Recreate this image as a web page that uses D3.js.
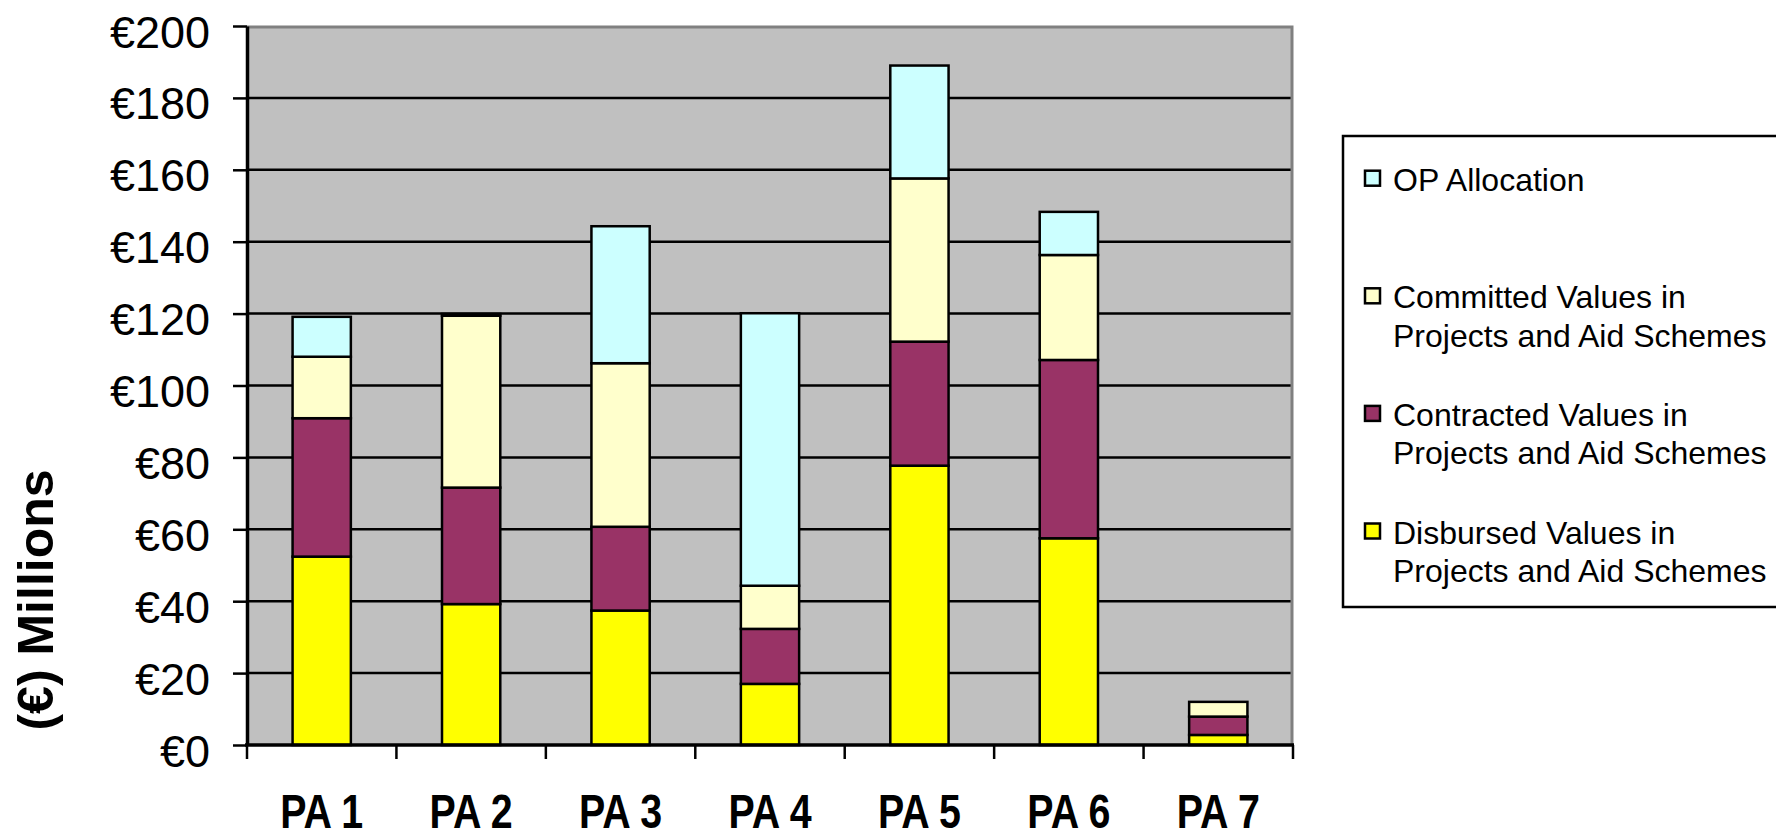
<!DOCTYPE html>
<html>
<head>
<meta charset="utf-8">
<script src="https://cdn.jsdelivr.net/npm/d3@7"></script>
<style>
  body { margin: 0; background: #fff; overflow: hidden; }
  text { font-family: "Liberation Sans", Arial, sans-serif; fill: #000; }
</style>
</head>
<body>
<div id="chart"></div>
<script>
// values, in € millions (stack segments, bottom to top)
const categories = ["PA 1", "PA 2", "PA 3", "PA 4", "PA 5", "PA 6", "PA 7"];
const disbursed  = [52.4, 39.2, 37.4, 17.0, 77.7, 57.5, 2.8];
const contracted = [38.5, 32.4, 23.3, 15.3, 34.5, 49.6, 5.1];
const committed  = [17.1, 47.8, 45.5, 12.0, 45.4, 29.2, 4.1];
const opAlloc    = [11.1, 0.5, 38.1, 75.8, 31.4, 12.0, 0];
const yTicks = [0, 20, 40, 60, 80, 100, 120, 140, 160, 180, 200];

const seriesKeys = ["disbursed", "contracted", "committed", "op"];
const seriesColors = ["#FFFF00", "#993366", "#FFFFCC", "#CCFFFF"];
// legend, top to bottom
const legendKeys = ["op", "committed", "contracted", "disbursed"];
const legendLines = [
  ["OP Allocation"],
  ["Committed Values in", "Projects and Aid Schemes"],
  ["Contracted Values in", "Projects and Aid Schemes"],
  ["Disbursed Values in", "Projects and Aid Schemes"]
];

const W = 1776, H = 840;
const plot = { left: 247, right: 1293, top: 26, bottom: 745 };

const rows = categories.map((c, i) => ({
  cat: c,
  disbursed: disbursed[i],
  contracted: contracted[i],
  committed: committed[i],
  op: opAlloc[i]
}));

const svg = d3.select("#chart")
  .append("svg")
  .attr("width", W)
  .attr("height", H);

const x = d3.scaleBand()
  .domain(categories)
  .range([plot.left, plot.right])
  .paddingInner(0.61)
  .paddingOuter(0.305);

const y = d3.scaleLinear()
  .domain([0, 200])
  .range([plot.bottom, plot.top]);

const color = d3.scaleOrdinal().domain(seriesKeys).range(seriesColors);

// plot background
svg.append("rect")
  .attr("x", plot.left)
  .attr("y", plot.top)
  .attr("width", plot.right - plot.left)
  .attr("height", plot.bottom - plot.top)
  .style("fill", "#C0C0C0");

// gridlines
svg.append("g")
  .selectAll("line")
  .data(yTicks.filter(t => t > 0 && t < 200))
  .enter()
  .append("line")
  .attr("x1", plot.left)
  .attr("x2", plot.right)
  .attr("y1", d => y(d))
  .attr("y2", d => y(d))
  .style("stroke", "#000")
  .style("stroke-width", 2.5);

// gray top and right border
svg.append("path")
  .attr("d", `M${plot.left},${plot.top + 1}H${plot.right - 1}V${plot.bottom}`)
  .style("fill", "none")
  .style("stroke", "#808080")
  .style("stroke-width", 3);

// stacked bars
const stacked = d3.stack().keys(seriesKeys)(rows);

svg.append("g")
  .selectAll("g")
  .data(stacked)
  .enter()
  .append("g")
  .style("fill", d => color(d.key))
  .selectAll("rect")
  .data(d => d.filter(s => s[1] - s[0] > 0))
  .enter()
  .append("rect")
  .attr("x", d => x(d.data.cat))
  .attr("y", d => y(d[1]))
  .attr("width", x.bandwidth())
  .attr("height", d => y(d[0]) - y(d[1]))
  .style("stroke", "#000")
  .style("stroke-width", 2.5);

// y axis
const yAxis = svg.append("g")
  .attr("transform", `translate(${plot.left},0)`)
  .call(d3.axisLeft(y).tickValues(yTicks).tickSize(14).tickSizeOuter(0)
    .tickFormat(d => "€" + d));
yAxis.select(".domain").style("stroke", "#000").style("stroke-width", 3.5);
yAxis.selectAll(".tick line").style("stroke", "#000").style("stroke-width", 2.5);
yAxis.selectAll(".tick text")
  .attr("x", -37)
  .attr("dy", 21)
  .style("font-size", "45px")
  .style("font-family", "'Liberation Sans', Arial, sans-serif")
  .style("fill", "#000");

// x axis with ticks on category boundaries
const xAxis = svg.append("g")
  .attr("transform", `translate(0,${plot.bottom})`);
xAxis.append("line")
  .attr("x1", plot.left - 2)
  .attr("x2", plot.right + 1)
  .style("stroke", "#000")
  .style("stroke-width", 3.5);
xAxis.selectAll(".xtick")
  .data(d3.range(categories.length + 1))
  .enter()
  .append("line")
  .attr("class", "xtick")
  .attr("x1", i => plot.left + i * x.step())
  .attr("x2", i => plot.left + i * x.step())
  .attr("y1", 0)
  .attr("y2", 14)
  .style("stroke", "#000")
  .style("stroke-width", 2.5);

svg.append("g")
  .selectAll("text")
  .data(categories)
  .enter()
  .append("text")
  .attr("transform", d => `translate(${x(d) + x.bandwidth() / 2},828) scale(0.82,1)`)
  .attr("text-anchor", "middle")
  .style("font-size", "48px")
  .style("font-weight", "bold")
  .text(d => d);

// y axis title
svg.append("text")
  .attr("transform", "translate(53,600) rotate(-90)")
  .attr("text-anchor", "middle")
  .style("font-size", "50px")
  .style("font-weight", "bold")
  .text("(€) Millions");

// legend
const legend = svg.append("g");
legend.append("rect")
  .attr("x", 1343)
  .attr("y", 136)
  .attr("width", 480)
  .attr("height", 471)
  .style("fill", "#fff")
  .style("stroke", "#000")
  .style("stroke-width", 2.5);

const items = legend.selectAll(".item")
  .data(legendKeys)
  .enter()
  .append("g")
  .attr("class", "item")
  .attr("transform", (d, i) => `translate(1364,${190.7 + i * 117.6})`);

items.append("rect")
  .attr("x", 1)
  .attr("y", -20)
  .attr("width", 15)
  .attr("height", 15)
  .style("fill", d => color(d))
  .style("stroke", "#000")
  .style("stroke-width", 2.5);

items.append("text")
  .attr("x", 29)
  .style("font-size", "32px")
  .selectAll("tspan")
  .data((d, i) => legendLines[i])
  .enter()
  .append("tspan")
  .attr("x", 29)
  .attr("y", (d, j) => j * 38.4)
  .text(d => d);
</script>
</body>
</html>
